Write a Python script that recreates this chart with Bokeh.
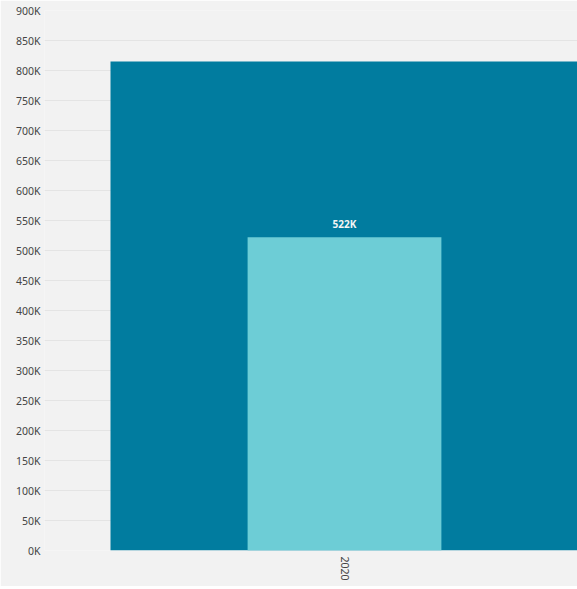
from bokeh.plotting import figure
from bokeh.models import Range1d, FixedTicker, ColumnDataSource, LabelSet
from bokeh.core.properties import value
from bokeh.embed import file_html
from bokeh.resources import INLINE

categories = ["2020"]
total_values = [815000]
current_values = [522000]
current_labels = ["522K"]
y_ticks = [0, 50000, 100000, 150000, 200000, 250000, 300000, 350000, 400000,
           450000, 500000, 550000, 600000, 650000, 700000, 750000, 800000,
           850000, 900000]
y_tick_labels = ["0K", "50K", "100K", "150K", "200K", "250K", "300K", "350K",
                 "400K", "450K", "500K", "550K", "600K", "650K", "700K",
                 "750K", "800K", "850K", "900K"]

BG = "#f2f2f2"
FONT = "Noto Sans"

xs = list(range(len(categories)))

p = figure(width=577, height=586, output_backend="svg", toolbar_location=None,
           x_range=Range1d(-0.5, -0.5 + 533 / 600), y_range=Range1d(0, 900000),
           min_border_left=44, min_border_right=0, min_border_top=10,
           min_border_bottom=36)
p.background_fill_color = BG
p.border_fill_color = BG
p.outline_line_color = None

src = ColumnDataSource(dict(x=xs, total=total_values, cur=current_values,
                            lab=current_labels))

p.vbar(x="x", top="total", width=0.78, bottom=0, source=src,
       fill_color="#017c9f", line_color=None)
p.vbar(x="x", top="cur", width=0.323, bottom=0, source=src,
       fill_color="#6dcdd6", line_color=None)

labels = LabelSet(x="x", y="cur", text="lab", source=src, y_offset=6,
                  text_align="center", text_baseline="bottom",
                  text_color="#f4f4f4", text_font=value(FONT),
                  text_font_size="10px", text_font_style="bold")
p.add_layout(labels)

p.yaxis.ticker = FixedTicker(ticks=y_ticks)
p.yaxis.major_label_overrides = {t: l for t, l in zip(y_ticks, y_tick_labels)}
p.xaxis.ticker = FixedTicker(ticks=xs)
p.xaxis.major_label_overrides = {i: c for i, c in zip(xs, categories)}
p.xaxis.major_label_orientation = "vertical"

for ax in (p.xaxis, p.yaxis):
    ax.axis_line_color = None
    ax.major_tick_line_color = None
    ax.minor_tick_line_color = None
    ax.major_tick_out = 0
    ax.major_tick_in = 0
    ax.major_label_text_font = FONT
    ax.major_label_text_font_size = "10.5px"
    ax.major_label_text_color = "#444444"
p.yaxis.major_label_standoff = 4
p.xaxis.major_label_standoff = 6

p.xgrid.grid_line_color = None
p.ygrid.grid_line_color = "#e4e4e4"
p.ygrid.grid_line_width = 1

html = file_html(p, INLINE)
html = html.replace("<body>", '<body style="background:%s">' % BG, 1)
open("out.html", "w").write(html)
